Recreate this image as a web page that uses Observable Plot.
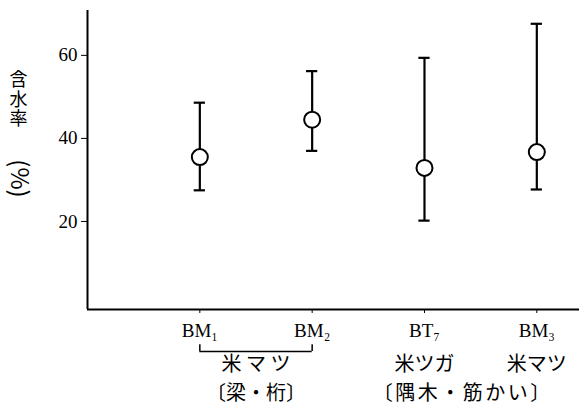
<!DOCTYPE html>
<html>
<head>
<meta charset="utf-8">
<script src="https://cdn.jsdelivr.net/npm/d3@7"></script>
<script src="https://cdn.jsdelivr.net/npm/@observablehq/plot@0.6"></script>
<style>
  html, body { margin: 0; padding: 0; background: #fff; }
</style>
</head>
<body>
<div id="chart"></div>
<script>
// ---- data ----
const categories = ["BM₁", "BM₂", "BT₇", "BM₃"];
const means = [35.5, 44.5, 32.9, 36.7];
const highs = [48.6, 56.2, 59.4, 67.6];
const lows = [27.5, 37.0, 20.2, 27.7];
const yTicks = [20, 40, 60];
const speciesLabels = ["米 マ ツ", "米ツガ", "米マツ"];
const speciesPos = [1.5, 3, 4];
const useLabels = ["〔梁・桁〕", "〔隅木・筋かい〕"];
const usePos = [1.5, 3.34];
const yLabel = "含\n水\n率";
const yUnit = "(%)";

const rows = categories.map((c, i) => ({i: i + 1, c, mean: means[i], hi: highs[i], lo: lows[i]}));
const species = speciesLabels.map((t, k) => ({t, x: speciesPos[k]}));
const uses = useLabels.map((t, k) => ({t, x: usePos[k]}));

const CJK = "'Noto Sans CJK JP', sans-serif";
const capHalf = 0.05;
const bracketY = -11.3, bracketTip = -9.7;

const chart = Plot.plot({
  width: 579,
  height: 413,
  marginLeft: 87,
  marginRight: 0,
  marginTop: 10,
  marginBottom: 104,
  style: {fontFamily: "'Liberation Serif', serif", fontSize: "19px", background: "#fff", color: "#000"},
  x: {domain: [0, 4.38], ticks: [1, 2, 3, 4], tickFormat: i => categories[i - 1], tickSize: 4, tickPadding: 10, label: null},
  y: {domain: [-1.2, 70.8], ticks: yTicks, tickSize: 6, tickPadding: 4, label: null},
  marks: [
    Plot.ruleX([0], {stroke: "#000", strokeWidth: 2}),
    Plot.ruleY([-1.2], {stroke: "#000", strokeWidth: 2}),
    Plot.ruleX(rows, {x: "i", y1: "lo", y2: "hi", stroke: "#000", strokeWidth: 2.2}),
    Plot.ruleY(rows, {y: "hi", x1: d => d.i - capHalf, x2: d => d.i + capHalf, stroke: "#000", strokeWidth: 2.2}),
    Plot.ruleY(rows, {y: "lo", x1: d => d.i - capHalf, x2: d => d.i + capHalf, stroke: "#000", strokeWidth: 2.2}),
    Plot.dot(rows, {x: "i", y: "mean", r: 8, fill: "#fff", stroke: "#000", strokeWidth: 2}),
    // bracket under BM1–BM2
    Plot.ruleY([bracketY], {x1: 1, x2: 2, stroke: "#000", strokeWidth: 1.5}),
    Plot.ruleX([1, 2], {y1: bracketTip, y2: bracketY, stroke: "#000", strokeWidth: 1.5}),
    // annotations
    Plot.text(species, {x: "x", text: "t", frameAnchor: "bottom", dy: 61, fontFamily: CJK, fontSize: 20}),
    Plot.text(uses, {x: "x", text: "t", frameAnchor: "bottom", dy: 90, fontFamily: CJK, fontSize: 20}),
    // y label
    Plot.text([yLabel], {frameAnchor: "top-left", dx: -69, dy: 62, lineAnchor: "top", textAnchor: "middle", lineHeight: 1.08, fontFamily: CJK, fontSize: 18}),
    Plot.text([yUnit], {frameAnchor: "top-left", dx: -69, dy: 168, rotate: 90, textAnchor: "middle", lineAnchor: "middle", fontFamily: CJK, fontSize: 24})
  ]
});
document.getElementById("chart").appendChild(chart);
// widen the spacing of the second use label to match the printed layout
d3.select(chart).selectAll("text").filter(function () { return this.textContent === useLabels[1]; })
  .attr("letter-spacing", "2.5px");
</script>
</body>
</html>
